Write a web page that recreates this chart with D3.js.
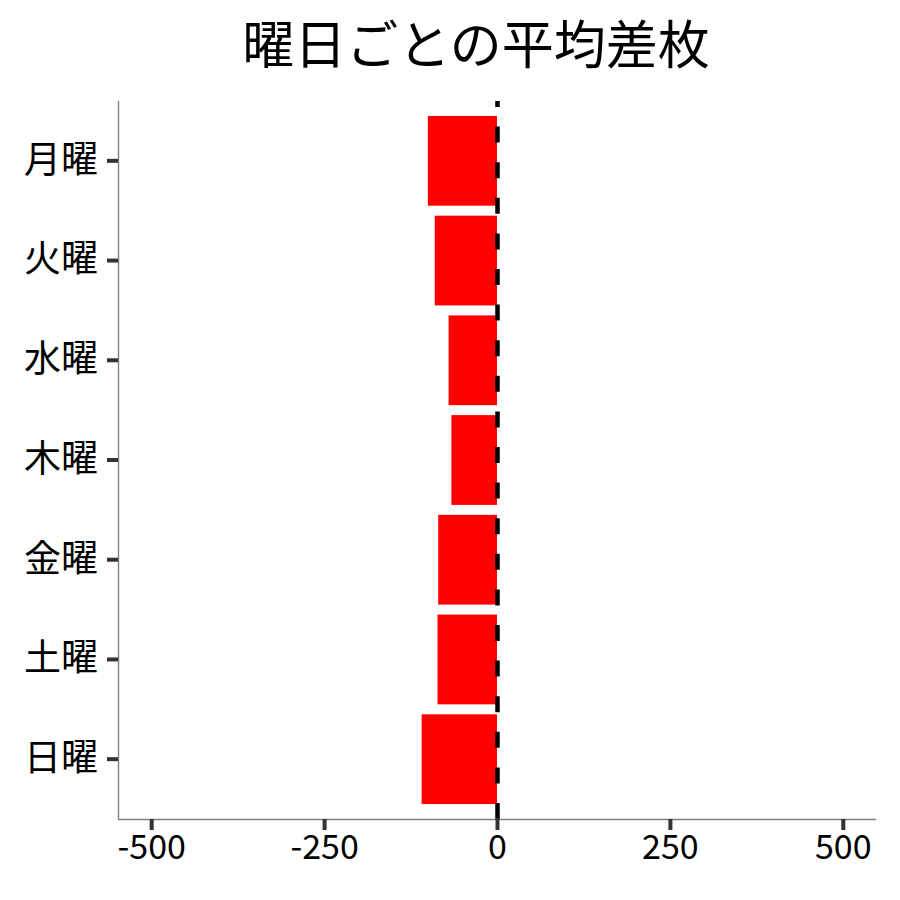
<!DOCTYPE html>
<html>
<head>
<meta charset="utf-8">
<script src="https://cdn.jsdelivr.net/npm/d3@7"></script>
<style>
  body { margin: 0; background: #fff; }
  svg { display: block; font-family: "Noto Sans CJK JP", "Noto Sans", sans-serif; }
</style>
</head>
<body>
<div id="container"></div>
<script>
const title = '曜日ごとの平均差枚';
const days = ['月曜', '火曜', '水曜', '木曜', '金曜', '土曜', '日曜'];
const avgDiff = [-100, -90, -70, -66, -85, -86, -109];
const xTicks = [-500, -250, 0, 250, 500];

const width = 900;
const height = 900;
const margin = { top: 101, right: 24, bottom: 81, left: 118 };

const svg = d3.select('#container')
    .append('svg')
    .attr('width', width)
    .attr('height', height);

const x = d3.scaleLinear()
    .domain([-548, 548])
    .range([margin.left, width - margin.right]);

const y = d3.scaleBand()
    .domain(days)
    .range([margin.top, height - margin.bottom])
    .paddingInner(0.1)
    .paddingOuter(0.15);

// bars
svg.append('g')
    .selectAll('rect')
    .data(days)
    .join('rect')
    .attr('x', (d, i) => x(Math.min(0, avgDiff[i])))
    .attr('y', d => y(d))
    .attr('width', (d, i) => Math.abs(x(avgDiff[i]) - x(0)))
    .attr('height', y.bandwidth())
    .attr('fill', '#ff0000');

// zero line, drawn bottom -> top so the dash phase starts at the axis
svg.append('line')
    .attr('x1', x(0) + 0.5).attr('x2', x(0) + 0.5)
    .attr('y1', height - margin.bottom).attr('y2', margin.top)
    .attr('stroke', '#000')
    .attr('stroke-width', 4.5)
    .attr('stroke-dasharray', '16,19.6');

// axes
const xAxis = svg.append('g')
    .attr('transform', `translate(0,${height - margin.bottom})`)
    .call(d3.axisBottom(x).tickValues(xTicks).tickSize(11).tickPadding(5).tickFormat(d => String(d)));

const yAxis = svg.append('g')
    .attr('transform', `translate(${margin.left},0)`)
    .call(d3.axisLeft(y).tickSize(11).tickPadding(9));

[xAxis, yAxis].forEach(ax => {
    ax.select('.domain').attr('stroke', '#7f7f7f').attr('stroke-width', 1.4);
    ax.selectAll('.tick line').attr('stroke', '#333').attr('stroke-width', 4);
    ax.selectAll('.tick text')
        .attr('fill', '#000')
        .style('font-family', '"Noto Sans CJK JP", sans-serif');
});
xAxis.selectAll('.tick text').style('font-size', '34px');
yAxis.selectAll('.tick text').style('font-size', '37px');

// ggplot style axes: no end caps
xAxis.select('.domain').attr('d', `M${margin.left},0.5H${width - margin.right}`);
yAxis.select('.domain').attr('d', `M0.5,${margin.top}V${height - margin.bottom}`);

svg.append('text')
    .attr('x', 476)
    .attr('y', 64)
    .attr('text-anchor', 'middle')
    .style('font-size', '52px')
    .attr('fill', '#000')
    .text(title);
</script>
</body>
</html>
